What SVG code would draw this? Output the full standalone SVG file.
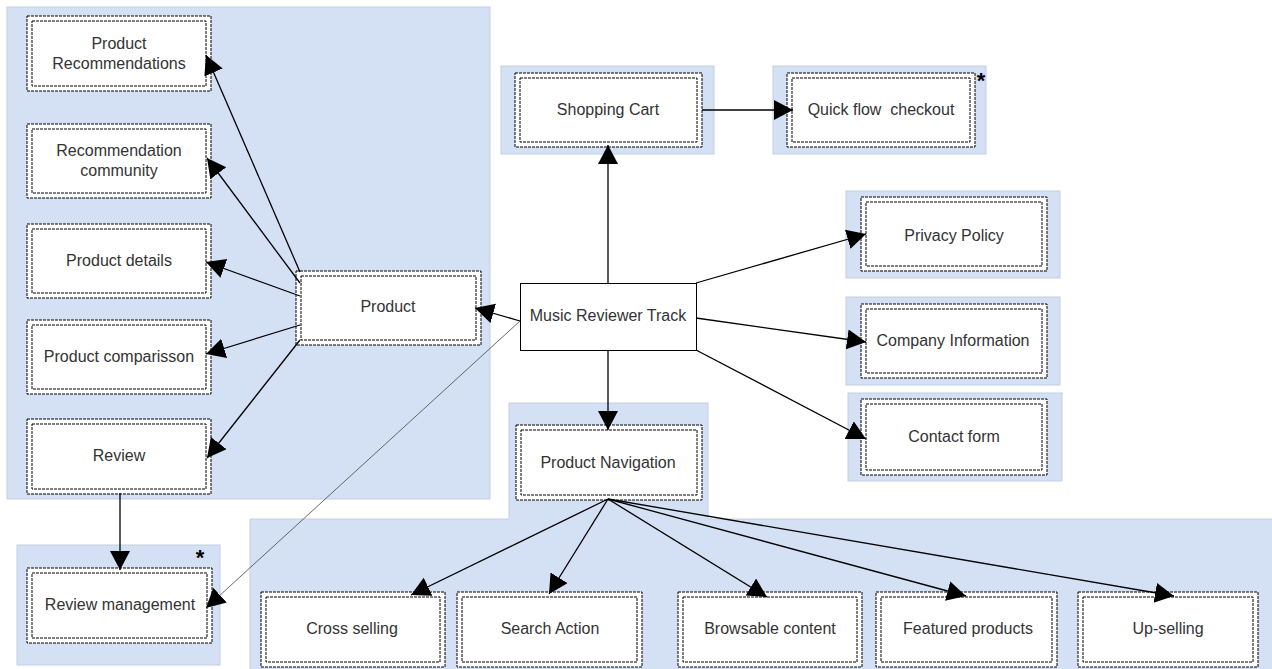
<svg xmlns="http://www.w3.org/2000/svg" width="1272" height="669" viewBox="0 0 1272 669">
<style>
.panel{fill:#d4e1f4;stroke:#c4cfe0;stroke-width:1}
.o{fill:#fff;stroke:#000;stroke-width:1;stroke-dasharray:3,1}
.i{fill:#fff;stroke:#000;stroke-width:1;stroke-dasharray:3,1}
.t{font-family:"Liberation Sans",Arial,sans-serif;font-size:16px;fill:#333;text-anchor:middle}
.e{stroke:#000;stroke-width:1.3;fill:none;marker-end:url(#ah)}
.thin{stroke:#444;stroke-width:0.8;fill:none;marker-end:url(#ah)}
.star{font-family:"Liberation Sans",Arial,sans-serif;font-size:22px;font-weight:bold;fill:#000;text-anchor:middle}
</style>
<defs>
<marker id="ah" markerUnits="userSpaceOnUse" markerWidth="22" markerHeight="22" refX="19" refY="10" orient="auto">
<path d="M0,0 L19,10 L0,20 z" fill="#000"/>
</marker>
</defs>
<rect width="1272" height="669" fill="#fff"/>
<g id="panels">
<rect class="panel" x="7" y="7" width="483" height="492"/>
<rect class="panel" x="501" y="66" width="213" height="88"/>
<rect class="panel" x="773" y="66" width="213" height="88"/>
<rect class="panel" x="846" y="191" width="214" height="87"/>
<rect class="panel" x="846" y="297" width="214" height="88"/>
<rect class="panel" x="848" y="393" width="214" height="88"/>
<rect class="panel" x="17" y="545" width="203" height="120"/>
<path class="panel" d="M509,403 H708 V519 H1274 V670 H250 V519 H509 Z"/>
</g>
<g id="n-prodrec"><rect class="o" x="27" y="16" width="184" height="75"/><rect class="i" x="32" y="21" width="174" height="65"/><text class="t" x="119" y="49">Product</text><text class="t" x="119" y="69">Recommendations</text></g>
<g id="n-reccomm"><rect class="o" x="27" y="124" width="184" height="74"/><rect class="i" x="32" y="129" width="174" height="64"/><text class="t" x="119" y="156">Recommendation</text><text class="t" x="119" y="176">community</text></g>
<g id="n-proddet"><rect class="o" x="27" y="224" width="184" height="74"/><rect class="i" x="32" y="229" width="174" height="64"/><text class="t" x="119" y="266">Product details</text></g>
<g id="n-prodcomp"><rect class="o" x="27" y="320" width="184" height="74"/><rect class="i" x="32" y="325" width="174" height="64"/><text class="t" x="119" y="362">Product comparisson</text></g>
<g id="n-review"><rect class="o" x="27" y="419" width="184" height="75"/><rect class="i" x="32" y="424" width="174" height="65"/><text class="t" x="119" y="461">Review</text></g>
<g id="n-product"><rect class="o" x="296" y="271" width="185" height="74"/><rect class="i" x="301" y="276" width="175" height="64"/><text class="t" x="388" y="312">Product</text></g>
<g id="n-music"><rect x="520.5" y="283.5" width="176" height="67" fill="#fff" stroke="#000" stroke-width="1"/><text class="t" x="608" y="321">Music Reviewer Track</text></g>
<g id="n-cart"><rect class="o" x="515" y="73" width="187" height="74"/><rect class="i" x="520" y="78" width="177" height="64"/><text class="t" x="608" y="115">Shopping Cart</text></g>
<g id="n-quick"><rect class="o" x="787" y="73" width="188" height="74"/><rect class="i" x="792" y="78" width="178" height="64"/><text class="t" x="881" y="115" xml:space="preserve">Quick flow  checkout</text><text class="star" x="981" y="88">*</text></g>
<g id="n-privacy"><rect class="o" x="861" y="197" width="186" height="74"/><rect class="i" x="866" y="202" width="176" height="64"/><text class="t" x="954" y="241">Privacy Policy</text></g>
<g id="n-company"><rect class="o" x="861" y="304" width="186" height="74"/><rect class="i" x="866" y="309" width="176" height="64"/><text class="t" x="953" y="346">Company Information</text></g>
<g id="n-contact"><rect class="o" x="861" y="399" width="186" height="76"/><rect class="i" x="866" y="404" width="176" height="66"/><text class="t" x="954" y="442">Contact form</text></g>
<g id="n-revman"><rect class="o" x="27" y="568" width="185" height="75"/><rect class="i" x="32" y="573" width="175" height="65"/><text class="t" x="120" y="610">Review management</text><text class="star" x="200" y="565">*</text></g>
<g id="n-nav"><rect class="o" x="516" y="425" width="186" height="75"/><rect class="i" x="521" y="430" width="176" height="65"/><text class="t" x="608" y="468">Product Navigation</text></g>
<g id="n-cross"><rect class="o" x="261" y="592" width="184" height="75"/><rect class="i" x="266" y="597" width="174" height="65"/><text class="t" x="352" y="634">Cross selling</text></g>
<g id="n-search"><rect class="o" x="457" y="592" width="185" height="75"/><rect class="i" x="462" y="597" width="175" height="65"/><text class="t" x="550" y="634">Search Action</text></g>
<g id="n-browse"><rect class="o" x="678" y="592" width="184" height="75"/><rect class="i" x="683" y="597" width="174" height="65"/><text class="t" x="770" y="634">Browsable content</text></g>
<g id="n-featured"><rect class="o" x="876" y="592" width="181" height="75"/><rect class="i" x="881" y="597" width="171" height="65"/><text class="t" x="968" y="634">Featured products</text></g>
<g id="n-upsell"><rect class="o" x="1078" y="592" width="180" height="75"/><rect class="i" x="1083" y="597" width="170" height="65"/><text class="t" x="1168" y="634">Up-selling</text></g>
<g id="connectors">
<line class="e" x1="300" y1="272" x2="206" y2="55"/>
<line class="e" x1="300" y1="283" x2="207" y2="158"/>
<line class="e" x1="300" y1="296" x2="206" y2="262"/>
<line class="e" x1="300" y1="325" x2="206" y2="354"/>
<line class="e" x1="300" y1="340" x2="207" y2="458"/>
<line class="e" x1="520" y1="321" x2="475" y2="308"/>
<line class="thin" x1="520" y1="321" x2="206" y2="608"/>
<line class="e" x1="608" y1="283" x2="608" y2="145"/>
<line class="e" x1="702" y1="110" x2="793" y2="110"/>
<line class="e" x1="696" y1="283" x2="866" y2="234"/>
<line class="e" x1="696" y1="318" x2="866" y2="342"/>
<line class="e" x1="696" y1="350" x2="866" y2="439"/>
<line class="e" x1="608" y1="350" x2="608" y2="430"/>
<line class="e" x1="120" y1="493" x2="120" y2="570"/>
<line class="e" x1="608" y1="499" x2="411" y2="595"/>
<line class="e" x1="608" y1="499" x2="549" y2="594"/>
<line class="e" x1="608" y1="499" x2="767" y2="597"/>
<line class="e" x1="608" y1="499" x2="966" y2="596"/>
<line class="e" x1="608" y1="499" x2="1174" y2="596"/>
</g>
</svg>
